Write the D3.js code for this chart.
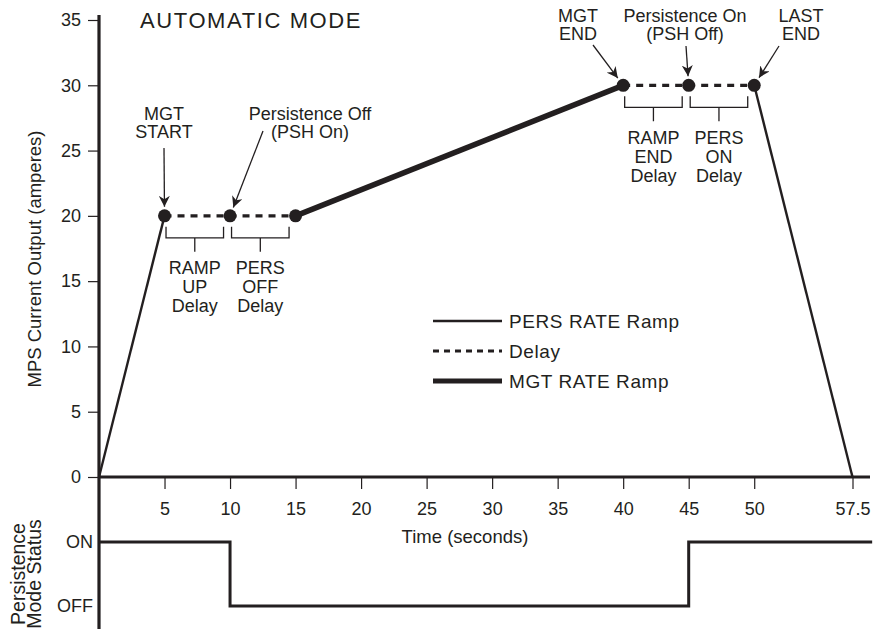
<!DOCTYPE html>
<html><head><meta charset="utf-8">
<script src="https://cdn.jsdelivr.net/npm/d3@7"></script>
<style>
html,body{margin:0;padding:0;background:#fff;}
svg{display:block;font-family:"Liberation Sans",Arial,Helvetica,sans-serif;}
</style></head>
<body><svg id="c" width="873" height="631"></svg>
<script>
// ---------- data ----------
const xTickValues = [5,10,15,20,25,30,35,40,45,50,57.5];
const yTickValues = [0,5,10,15,20,25,30,35];
const persUpTime = [0,5],          persUpAmps = [0,20];
const delay1Time = [5,10,15],      delay1Amps = [20,20,20];
const mgtTime    = [15,40],        mgtAmps    = [20,30];
const delay2Time = [40,45,50],     delay2Amps = [30,30,30];
const persDnTime = [50,57.5],      persDnAmps = [30,0];
const markerTime = [5,10,15,40,45,50];
const markerAmps = [20,20,20,30,30,30];
const statusTime = [0,10,45,59];
const statusVal  = ["ON","OFF","ON","ON"];
const statusLevels = ["ON","OFF"];
const bracketStart = [5,10,40,45];
const bracketEnd   = [10,15,45,50];
const bracketAmps  = [20,20,30,30];
const bracketLabels = [["RAMP","UP","Delay"],["PERS","OFF","Delay"],["RAMP","END","Delay"],["PERS","ON","Delay"]];
const calloutLabels = [["MGT","START"],["Persistence Off","(PSH On)"],["MGT","END"],["Persistence On","(PSH Off)"],["LAST","END"]];
const calloutTarget = [0,1,3,4,5]; // index into markers
const legendLabels = ["PERS RATE Ramp","Delay","MGT RATE Ramp"];

// ---------- scales ----------
const INK = "#231f20";
const svg = d3.select("#c");
const x = d3.scaleLinear().domain([0,57.5]).range([99,852.5]);
const y = d3.scaleLinear().domain([0,35]).range([477,20]);
const ys = d3.scalePoint().domain(statusLevels).range([542,606]);
const zip = (t,a)=>t.map((v,i)=>[v,a[i]]);
const line = d3.line().x(d=>x(d[0])).y(d=>y(d[1]));
const FF = "Liberation Sans, Arial, sans-serif";

// ---------- axes ----------
svg.append("line").attr("x1",x(0)).attr("x2",x(0)).attr("y1",15).attr("y2",629)
  .attr("stroke",INK).attr("stroke-width",3.2);
const yAxis = svg.append("g").attr("transform",`translate(${x(0)},0)`)
  .call(d3.axisLeft(y).tickValues(yTickValues).tickSize(11).tickPadding(7));
yAxis.select(".domain").remove();
yAxis.selectAll("line").attr("stroke",INK).attr("stroke-width",1.2);
yAxis.selectAll("text").attr("font-size",18).attr("fill",INK).attr("font-family",FF);

svg.append("line").attr("x1",x(0)).attr("x2",870).attr("y1",y(0)).attr("y2",y(0))
  .attr("stroke",INK).attr("stroke-width",3.2);
const xAxis = svg.append("g").attr("transform",`translate(0,${y(0)})`)
  .call(d3.axisBottom(x).tickValues(xTickValues).tickFormat(d=>d).tickSize(12).tickPadding(13));
xAxis.select(".domain").remove();
xAxis.selectAll("line").attr("stroke",INK).attr("stroke-width",1.2);
xAxis.selectAll("text").attr("font-size",18).attr("fill",INK).attr("font-family",FF);

svg.append("text").attr("x",465).attr("y",543).attr("text-anchor","middle")
  .attr("font-size",18.5).attr("fill",INK).text("Time (seconds)");

svg.append("text").attr("transform","translate(41,259) rotate(-90)").attr("text-anchor","middle")
  .attr("font-size",18.5).attr("fill",INK).text("MPS Current Output (amperes)");

svg.append("text").attr("x",140).attr("y",28).attr("font-size",22).attr("letter-spacing",1.6)
  .attr("fill",INK).text("AUTOMATIC MODE");

// ---------- main series ----------
svg.append("path").attr("d",line(zip(persUpTime,persUpAmps))).attr("fill","none")
  .attr("stroke",INK).attr("stroke-width",2.4);
svg.append("path").attr("d",line(zip(persDnTime,persDnAmps))).attr("fill","none")
  .attr("stroke",INK).attr("stroke-width",2.4);
svg.append("path").attr("d",line(zip(mgtTime,mgtAmps))).attr("fill","none")
  .attr("stroke",INK).attr("stroke-width",5.6);
[zip(delay1Time,delay1Amps),zip(delay2Time,delay2Amps)].forEach(p=>{
  svg.append("path").attr("d",line(p)).attr("fill","none")
    .attr("stroke",INK).attr("stroke-width",3.2).attr("stroke-dasharray","7,6");
});
svg.selectAll("circle.mk").data(zip(markerTime,markerAmps)).join("circle").attr("class","mk")
  .attr("cx",d=>x(d[0])).attr("cy",d=>y(d[1])).attr("r",6.5).attr("fill",INK);

// ---------- brackets ----------
bracketStart.forEach((s,i)=>{
  const x0 = x(s)+1.5, x1 = x(bracketEnd[i])-6.5, yt = y(bracketAmps[i])+11, yb = yt+11;
  const xm = (x0+x1)/2;
  svg.append("path").attr("d",`M${x0},${yt}V${yb}H${x1}V${yt}M${xm},${yb}V${yb+14}`)
    .attr("fill","none").attr("stroke",INK).attr("stroke-width",1.3);
  bracketLabels[i].forEach((t,j)=>{
    svg.append("text").attr("x",xm).attr("y",yb+36.5+j*19).attr("text-anchor","middle")
      .attr("font-size",18).attr("fill",INK).text(t);
  });
});

// ---------- callouts ----------
svg.append("defs").append("marker").attr("id","ah").attr("viewBox","0 0 10 10")
  .attr("refX",10).attr("refY",5).attr("markerWidth",11).attr("markerHeight",11)
  .attr("markerUnits","userSpaceOnUse").attr("orient","auto")
  .append("path").attr("d","M0,0L10,5L0,10L3,5Z").attr("fill",INK);
const calloutText = [[164,120],[310,120],[578,22],[685,22],[801,22]];
const calloutFrom = [[164,148],[263,131],[593,45],[686,46],[779,46]];
calloutLabels.forEach((lbl,i)=>{
  lbl.forEach((t,j)=>{
    svg.append("text").attr("x",calloutText[i][0]).attr("y",calloutText[i][1]+j*18)
      .attr("text-anchor","middle").attr("font-size",18).attr("fill",INK).text(t);
  });
  const k = calloutTarget[i];
  const tx = x(markerTime[k]), ty = y(markerAmps[k]);
  const [fx,fy] = calloutFrom[i];
  const dx = tx-fx, dy = ty-fy, L = Math.hypot(dx,dy);
  svg.append("line").attr("x1",fx).attr("y1",fy)
    .attr("x2",tx-dx/L*9).attr("y2",ty-dy/L*9)
    .attr("stroke",INK).attr("stroke-width",1.3).attr("marker-end","url(#ah)");
});

// ---------- legend ----------
const lgY = [321,351,381];
const lgW = [2.3,3,5.2];
const lgDash = [null,"6,5",null];
legendLabels.forEach((t,i)=>{
  svg.append("line").attr("x1",433).attr("x2",502).attr("y1",lgY[i]).attr("y2",lgY[i])
    .attr("stroke",INK).attr("stroke-width",lgW[i]).attr("stroke-dasharray",lgDash[i]);
  svg.append("text").attr("x",509).attr("y",lgY[i]+7).attr("font-size",19).attr("letter-spacing",0.6)
    .attr("fill",INK).text(t);
});

// ---------- persistence status panel ----------
svg.append("path").attr("d",d3.line().curve(d3.curveStepAfter)
    .x(d=>x(d[0])).y(d=>ys(d[1]))(zip(statusTime,statusVal)))
  .attr("fill","none").attr("stroke",INK).attr("stroke-width",3);
statusLevels.forEach(s=>{
  svg.append("text").attr("x",93).attr("y",ys(s)+6).attr("text-anchor","end")
    .attr("font-size",18).attr("fill",INK).text(s);
});
svg.append("text").attr("transform","translate(0,574) rotate(-90)").attr("text-anchor","middle")
  .attr("font-size",19.5).attr("fill",INK)
  .selectAll("tspan").data(["Persistence","Mode Status"]).join("tspan")
  .attr("x",0).attr("y",(d,i)=>25+i*16).text(d=>d);
</script></body></html>
